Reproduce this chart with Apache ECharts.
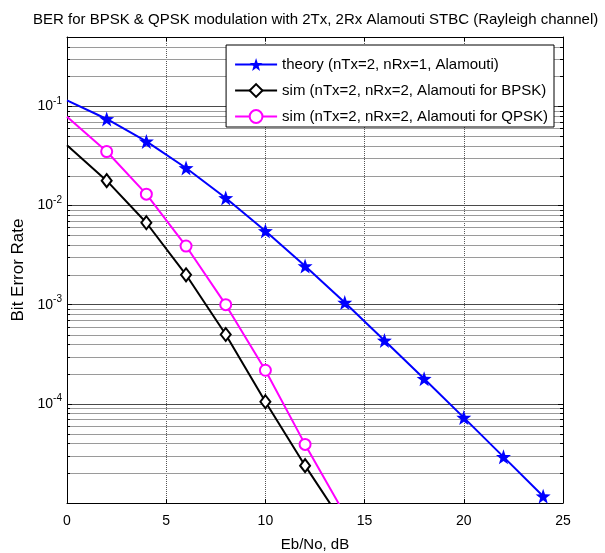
<!DOCTYPE html>
<html><head><meta charset="utf-8">
<script src="https://cdn.jsdelivr.net/npm/echarts@6/dist/echarts.min.js"></script>
<style>html,body{margin:0;padding:0;background:#fff}#c{width:605px;height:553px}</style>
</head><body><div id="c"></div>
<script>
// ---- data ----
const ebnoTheory = [0, 2, 4, 6, 8, 10, 12, 14, 16, 18, 20, 22, 24];
const berTheory = [0.115, 0.0745, 0.0443, 0.0239, 0.0119, 0.00553, 0.00245, 0.00105, 0.000436, 0.000179, 0.0000726, 0.0000292, 0.0000117];
const ebnoSim = [0, 2, 4, 6, 8, 10, 12, 14];
const berSimBpsk = [0.0405, 0.0178, 0.0067, 0.00200, 0.000500, 0.000105, 0.0000238, 0.0000059];
const berSimQpsk = [0.0785, 0.0350, 0.0130, 0.00390, 0.00100, 0.000218, 0.0000390, 0.0000077];
const seriesNames = ['theory (nTx=2, nRx=1, Alamouti)', 'sim (nTx=2, nRx=2, Alamouti for BPSK)', 'sim (nTx=2, nRx=2, Alamouti for QPSK)'];
const xMin = 0, xMax = 25, xStep = 5;
const yMin = 1e-5, yMax = 0.5;
const labeledExponents = [-4, -3, -2, -1];
const minorMantissas = [2, 3, 4, 5, 6, 7, 8, 9];
const minorDecades = [1e-5, 1e-4, 1e-3, 1e-2, 1e-1];

const FONT = 'Liberation Sans, Arial, sans-serif';
const minorY = [];
minorDecades.forEach(d => minorMantissas.forEach(m => { const v = m * d; if (v < yMax * 0.999) minorY.push(v); }));

function pts(xs, ys) {
  return xs.map((x, i) => i === 0 ? { value: [x, ys[i]], symbol: 'none' } : [x, ys[i]]);
}
const starPath = 'path://M0,-10 L2.35,-3.24 L9.51,-3.09 L3.8,1.24 L5.88,8.09 L0,4 L-5.88,8.09 L-3.8,1.24 L-9.51,-3.09 L-2.35,-3.24 Z';

const chart = echarts.init(document.getElementById('c'), null, { renderer: 'canvas' });
chart.setOption({
  animation: false,
  backgroundColor: '#fff',
  title: {
    text: 'BER for BPSK & QPSK modulation with 2Tx, 2Rx Alamouti STBC (Rayleigh channel)',
    left: 28, top: 7,
    textStyle: { fontFamily: FONT, fontSize: 15, fontWeight: 'normal', color: '#000' }
  },
  grid: { left: 67, top: 37, right: 42, bottom: 50, containLabel: false, outerBoundsMode: 'none' },
  legend: {
    data: seriesNames,
    orient: 'vertical',
    right: 51, top: 45,
    backgroundColor: '#fff', borderColor: '#000', borderWidth: 1,
    padding: [12, 6, 3, 8],
    itemWidth: 42, itemHeight: 16, itemGap: 11,
    textStyle: { fontFamily: FONT, fontSize: 15, color: '#000' }
  },
  xAxis: [{
    type: 'value', min: xMin, max: xMax, interval: xStep, position: 'bottom',
    name: 'Eb/No, dB', nameLocation: 'middle', nameGap: 34,
    nameTextStyle: { fontFamily: FONT, fontSize: 15, color: '#000' },
    axisLine: { onZero: false, lineStyle: { color: '#000', width: 1 } },
    axisTick: { inside: true, length: 4, lineStyle: { color: '#000' } },
    axisLabel: { fontFamily: FONT, fontSize: 14, color: '#000', margin: 11 },
    splitLine: { show: true, lineStyle: { color: '#555', type: 'dotted', width: 1 } }
  }, {
    type: 'value', min: xMin, max: xMax, interval: xStep, position: 'top',
    axisLine: { onZero: false, lineStyle: { color: '#000', width: 1 } },
    axisTick: { inside: true, length: 4, lineStyle: { color: '#000' } },
    axisLabel: { show: false }, splitLine: { show: false }
  }],
  yAxis: [{
    type: 'log', logBase: 10, min: yMin, max: yMax, position: 'left',
    name: 'Bit Error Rate', nameLocation: 'middle', nameGap: 39,
    nameTextStyle: { fontFamily: FONT, fontSize: 17, color: '#000' },
    axisLine: { onZero: false, lineStyle: { color: '#000', width: 1 } },
    axisTick: { inside: true, length: 5, lineStyle: { color: '#000' } },
    axisLabel: {
      margin: 5,
      formatter: function (v) {
        const l = Math.log10(v), e = Math.round(l);
        if (Math.abs(l - e) > 1e-6 || labeledExponents.indexOf(e) < 0) return '';
        return '{b|10}{s|' + e + '}';
      },
      rich: {
        b: { fontFamily: FONT, fontSize: 14, color: '#000' },
        s: { fontFamily: FONT, fontSize: 10, color: '#000', padding: [0, 0, 11, 0] }
      }
    },
    splitLine: { show: true, lineStyle: { color: '#4a4a4a', width: 1 } }
  }, {
    type: 'log', logBase: 10, min: yMin, max: yMax, position: 'right',
    axisLine: { onZero: false, lineStyle: { color: '#000', width: 1 } },
    axisTick: { inside: true, length: 5, lineStyle: { color: '#000' } },
    axisLabel: { show: false }, splitLine: { show: false }
  }],
  series: [
    {
      type: 'custom', name: 'minor', silent: true, z: 1, clip: true,
      xAxisIndex: 0, yAxisIndex: 0,
      data: minorY.map(v => [0, v]),
      renderItem: function (params, api) {
        const p = api.coord([0, api.value(1)]);
        const cs = params.coordSys;
        const x0 = cs.x, x1 = cs.x + cs.width, y = Math.round(p[1]) + 0.5;
        return {
          type: 'group', children: [
            { type: 'line', shape: { x1: x0, y1: y, x2: x1, y2: y }, style: { stroke: '#9a9a9a', lineWidth: 1 } },
            { type: 'line', shape: { x1: x0, y1: y, x2: x0 + 3, y2: y }, style: { stroke: '#000', lineWidth: 1 } },
            { type: 'line', shape: { x1: x1 - 3, y1: y, x2: x1, y2: y }, style: { stroke: '#000', lineWidth: 1 } }
          ]
        };
      }
    },
    {
      type: 'line', name: seriesNames[0], z: 3,
      data: pts(ebnoTheory, berTheory),
      symbol: starPath, symbolSize: 15, showAllSymbol: true,
      lineStyle: { color: '#0000ff', width: 2 },
      itemStyle: { color: '#0000ff', borderWidth: 0 }
    },
    {
      type: 'line', name: seriesNames[1], z: 3,
      data: pts(ebnoSim, berSimBpsk),
      symbol: 'diamond', symbolSize: [10, 13], showAllSymbol: true,
      lineStyle: { color: '#000', width: 2 },
      itemStyle: { color: '#fff', borderColor: '#000', borderWidth: 2 }
    },
    {
      type: 'line', name: seriesNames[2], z: 3,
      data: pts(ebnoSim, berSimQpsk),
      symbol: 'circle', symbolSize: 11, showAllSymbol: true,
      lineStyle: { color: '#ff00ff', width: 2 },
      itemStyle: { color: '#fff', borderColor: '#ff00ff', borderWidth: 2 }
    }
  ]
});
</script></body></html>
